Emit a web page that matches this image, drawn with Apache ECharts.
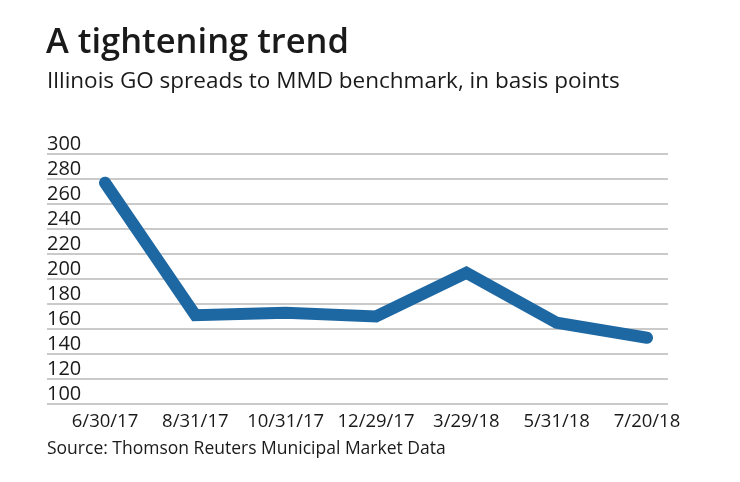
<!DOCTYPE html>
<html>
<head>
<meta charset="utf-8">
<script src="https://cdn.jsdelivr.net/npm/echarts@6/dist/echarts.min.js"></script>
<style>
  html, body { margin: 0; padding: 0; background: #fff; }
  #chart { width: 740px; height: 482px; }
</style>
</head>
<body>
<div id="chart"></div>
<script>
// categories + values (basis points)
const dates = ['6/30/17', '8/31/17', '10/31/17', '12/29/17', '3/29/18', '5/31/18', '7/20/18']
const spreads = [277, 171, 173, 170, 205, 165, 153]
const yTicks = [100, 300, 20] // min, max, step

const fontFamily = '"Open Sans", Lato, sans-serif'
const textColor = '#1a1a1a'

const chart = echarts.init(document.getElementById('chart'))

chart.setOption({
  animation: false,
  backgroundColor: '#fff',
  title: [
    {
      text: 'A tightening trend',
      left: 46, top: 26, padding: 0,
      textStyle: { fontFamily, fontSize: 34.5, fontWeight: 600, color: textColor }
    },
    {
      text: 'Illinois GO spreads to MMD benchmark, in basis points',
      left: 47, top: 70, padding: 0,
      textStyle: { fontFamily, fontSize: 22.5, fontWeight: 'normal', color: textColor }
    },
    {
      text: 'Source: Thomson Reuters Municipal Market Data',
      left: 47, top: 440, padding: 0,
      textStyle: { fontFamily, fontSize: 17.5, fontWeight: 'normal', color: textColor }
    }
  ],
  grid: [
    // grid 0: gridlines + y labels
    { left: 47, right: 72, top: 154, bottom: 78 },
    // grid 1: the line itself
    { left: 105, right: 93, top: 154, bottom: 78 }
  ],
  xAxis: [
    { type: 'category', gridIndex: 0, data: dates, show: false },
    {
      type: 'category', gridIndex: 1, data: dates, boundaryGap: false,
      axisLine: { show: false },
      axisTick: { show: false },
      axisLabel: { interval: 0, fontFamily, fontSize: 18.5, color: textColor, margin: 8 }
    }
  ],
  yAxis: [
    {
      type: 'value', gridIndex: 0,
      min: yTicks[0], max: yTicks[1], interval: yTicks[2],
      axisLine: { show: false },
      axisTick: { show: false },
      axisLabel: {
        inside: true, margin: 0, verticalAlign: 'bottom',
        padding: [0, 0, 0, 0],
        fontFamily, fontSize: 20, color: textColor
      },
      splitLine: { lineStyle: { color: '#b9b9b9', width: 1.5 } }
    },
    {
      type: 'value', gridIndex: 1,
      min: yTicks[0], max: yTicks[1], interval: yTicks[2],
      show: false
    }
  ],
  series: [
    {
      type: 'line',
      xAxisIndex: 1, yAxisIndex: 1,
      data: spreads,
      symbol: 'none',
      lineStyle: { color: '#1d67a2', width: 12, cap: 'round', join: 'miter' }
    }
  ]
})
</script>
</body>
</html>
